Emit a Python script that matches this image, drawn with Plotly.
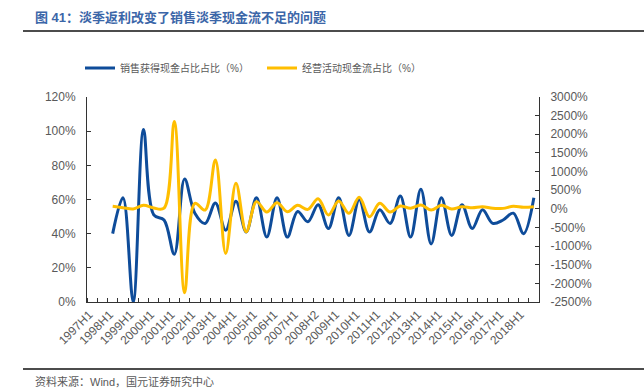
import plotly.graph_objects as go

# ---- data ----
categories = [
    "1997H1", "1997H2", "1998H1", "1998H2", "1999H1", "1999H2", "2000H1", "2000H2",
    "2001H1", "2001H2", "2002H1", "2002H2", "2003H1", "2003H2", "2004H1", "2004H2",
    "2005H1", "2005H2", "2006H1", "2006H2", "2007H1", "2007H2", "2008H1", "2008H2",
    "2009H1", "2009H2", "2010H1", "2010H2", "2011H1", "2011H2", "2012H1", "2012H2",
    "2013H1", "2013H2", "2014H1", "2014H2", "2015H1", "2015H2", "2016H1", "2016H2",
    "2017H1", "2017H2", "2018H1", "2018H2",
]
tick_labels = [
    "1997H1", "1998H1", "1999H1", "2000H1", "2001H1", "2002H1", "2003H1", "2004H1",
    "2005H1", "2006H1", "2007H1", "2008H2", "2009H1", "2010H1", "2011H1", "2012H1",
    "2013H1", "2014H1", "2015H1", "2016H1", "2017H1", "2018H1",
]
# 销售获得现金占比占比 (%), left axis
sales_cash_ratio = [
    None, None, 40, 61, 0, 101, 51, 48, 28, 72, 52, 46, 58, 42, 59, 41,
    61, 38, 61, 38, 53, 47, 57, 43, 61, 39, 60, 41, 54, 46, 62, 38,
    66, 34, 61, 39, 57, 43, 54, 46, 48, 52, 40, 61,
]
# 经营活动现金流占比 (%), right axis
op_cashflow_ratio = [
    None, None, 66, 30, -5, 93, 21, 21, 2345, -2249, 147, -33, 1313, -1199, 685, -616,
    192, -86, 165, -77, 93, -15, 272, -167, 210, -122, 308, -212, 147, -86, 75, 12,
    102, -33, 93, -5, 57, 30, 57, 12, 12, 66, 39, 57,
]
left_ticks = [0, 20, 40, 60, 80, 100, 120]
right_ticks = [-2500, -2000, -1500, -1000, -500, 0, 500, 1000, 1500, 2000, 2500, 3000]

series_names = ["销售获得现金占比占比（%）", "经营活动现金流占比（%）"]
title_text = "图 41：淡季返利改变了销售淡季现金流不足的问题"
source_text = "资料来源：Wind，国元证券研究中心"

# ---- figure ----
xs = list(range(len(categories)))
BLUE = "#0E4C9A"
GOLD = "#FFBE00"
GRAY = "#595959"
AXIS = "#333333"
FONT = "Liberation Sans, Arial, Noto Sans CJK SC, sans-serif"

fig = go.Figure()
fig.add_trace(go.Scatter(
    x=xs, y=sales_cash_ratio, name=series_names[0], mode="lines",
    line=dict(color=BLUE, width=3, shape="spline"), yaxis="y",
))
fig.add_trace(go.Scatter(
    x=xs, y=op_cashflow_ratio, name=series_names[1], mode="lines",
    line=dict(color=GOLD, width=3, shape="spline"), yaxis="y2",
))

L, R, T, B = 87, 105, 97, 89
W, H = 644, 391
pw, ph = W - L - R, H - T - B


def px2paper_x(px):
    return (px - L) / pw


def px2paper_y(py):
    return (H - B - py) / ph


fig.update_layout(
    width=W, height=H,
    margin=dict(l=L, r=R, t=T, b=B),
    paper_bgcolor="white", plot_bgcolor="white",
    font=dict(family=FONT, color=GRAY),
    title=dict(
        text="<b>" + title_text + "</b>",
        font=dict(size=13, color="#3B66A8", family=FONT),
        xref="container", yref="container",
        x=35 / W, xanchor="left", y=1 - 17 / H, yanchor="middle",
    ),
    legend=dict(
        orientation="h", xanchor="left", yanchor="middle",
        x=px2paper_x(80), y=px2paper_y(68),
        font=dict(size=10, color=GRAY, family=FONT),
        bgcolor="rgba(0,0,0,0)",
        entrywidth=137, entrywidthmode="pixels",
    ),
    xaxis=dict(
        range=[-0.5, len(categories) - 0.5],
        tickmode="array",
        tickvals=xs[::2],
        ticktext=tick_labels,
        tickangle=-45,
        ticks="",
        tickfont=dict(size=12, color=GRAY),
        ticklabelshift=-3,
        showline=True, linecolor=AXIS, linewidth=1,
        showgrid=False, zeroline=False,
        minor=dict(
            tickmode="array",
            tickvals=[i - 0.5 for i in range(len(categories) + 1)],
            ticks="inside", ticklen=4, tickcolor=AXIS, showgrid=False,
        ),
    ),
    yaxis=dict(
        range=[left_ticks[0], left_ticks[-1]],
        tickmode="array", tickvals=left_ticks,
        ticktext=[f"{v}%" for v in left_ticks],
        ticks="inside", ticklen=4, tickcolor=AXIS,
        tickfont=dict(size=12, color=GRAY),
        ticklabelstandoff=8,
        showline=True, linecolor=AXIS, linewidth=1,
        showgrid=False, zeroline=False,
    ),
    yaxis2=dict(
        overlaying="y", side="right",
        range=[right_ticks[0], right_ticks[-1]],
        tickmode="array", tickvals=right_ticks,
        ticktext=[f"{v}%" for v in right_ticks],
        ticks="inside", ticklen=4, tickcolor=AXIS,
        tickfont=dict(size=12, color=GRAY),
        ticklabelstandoff=8,
        showline=True, linecolor=AXIS, linewidth=1,
        showgrid=False, zeroline=False,
    ),
    shapes=[
        dict(type="line", xref="paper", yref="paper",
             x0=px2paper_x(23), x1=px2paper_x(644), y0=px2paper_y(31), y1=px2paper_y(31),
             line=dict(color="#111111", width=1.5)),
        dict(type="line", xref="paper", yref="paper",
             x0=px2paper_x(23), x1=px2paper_x(644), y0=px2paper_y(369), y1=px2paper_y(369),
             line=dict(color="#111111", width=1.5)),
    ],
    annotations=[
        dict(text=source_text, xref="paper", yref="paper",
             x=px2paper_x(33), y=px2paper_y(381), xanchor="left", yanchor="middle",
             showarrow=False, font=dict(size=11, color=GRAY, family=FONT)),
    ],
)

fig.write_html(
    "out.html",
    config={"displayModeBar": False},
    post_script="document.body.style.margin='0px';document.body.style.padding='0px';",
)
